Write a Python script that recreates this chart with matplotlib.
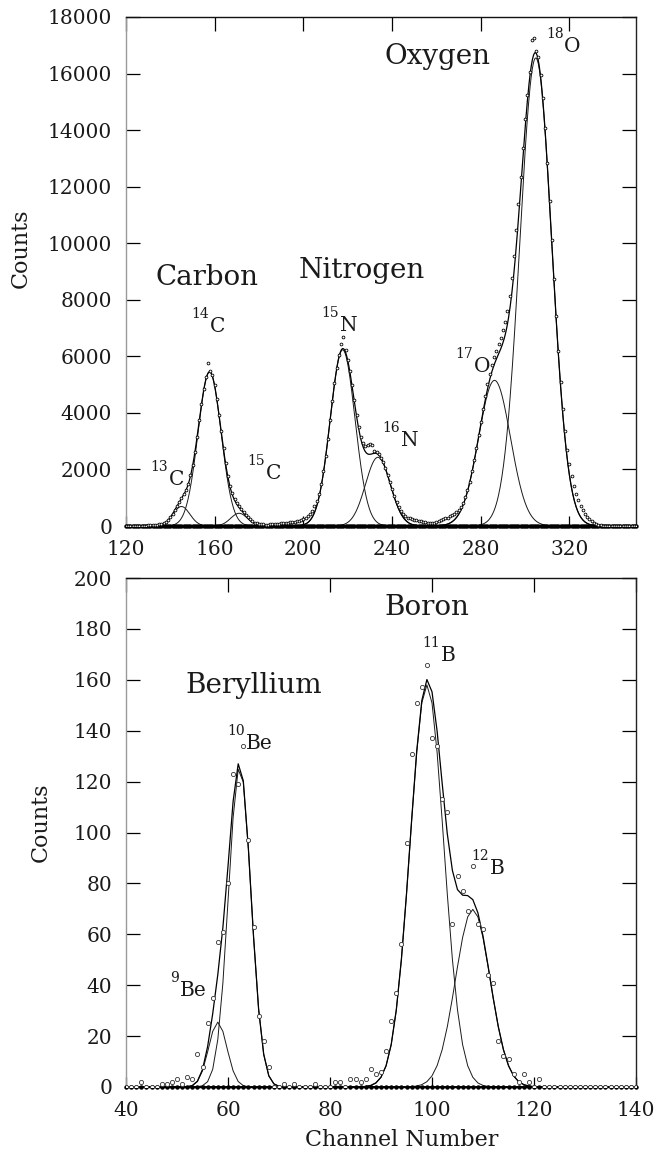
import numpy as np
import matplotlib
matplotlib.use("Agg")
import matplotlib.pyplot as plt

# ---------------- data: upper panel (C, N, O) ----------------
top_first_channel = 120
top_counts = [
    0, 0, 0, 0, 0, 0, 0, 0, 10, 15,
    20, 25, 30, 40, 45, 60, 80, 110, 150, 220,
    320, 440, 580, 720, 860, 990, 1130, 1290, 1500, 1790,
    2150, 2620, 3160, 3740, 4320, 4850, 5260, 5750, 5490, 5330,
    4980, 4500, 3940, 3350, 2760, 2230, 1780, 1420, 1150, 950,
    800, 690, 590, 490, 400, 310, 230, 170, 120, 90,
    70, 60, 55, 50, 50, 55, 60, 65, 70, 80,
    90, 100, 110, 120, 130, 140, 150, 170, 190, 220,
    250, 290, 340, 420, 530, 690, 880, 1130, 1480, 1930,
    2470, 3090, 3760, 4430, 5060, 5600, 6050, 6420, 6700, 6230,
    5870, 5480, 4990, 4450, 3940, 3500, 3150, 2930, 2830, 2880,
    2900, 2850, 2660, 2600, 2530, 2420, 2260, 2060, 1820, 1560,
    1300, 1060, 850, 670, 530, 430, 350, 300, 270, 240,
    220, 200, 185, 170, 150, 130, 110, 95, 100, 120,
    150, 180, 210, 240, 270, 300, 340, 390, 440, 500,
    580, 680, 820, 1010, 1260, 1570, 1930, 2330, 2760, 3210,
    3680, 4150, 4600, 5010, 5380, 5700, 5960, 6200, 6420, 6650,
    6920, 7230, 7620, 8120, 8760, 9550, 10450, 11400, 12350, 13350,
    14400, 15250, 16050, 17200, 17250, 16800, 16600, 15950, 15120, 14080,
    12850, 11500, 10120, 8740, 7420, 6200, 5100, 4150, 3350, 2700,
    2180, 1760, 1420, 1140, 910, 720, 560, 430, 330, 240,
    170, 110, 70, 40, 20, 10, 0, 0, 0, 0,
    0, 0, 0, 0, 0, 0, 0, 0, 0, 0,
    0,
]
# Gaussian fit components (amplitude, centroid, sigma)
top_peaks = ["13C", "14C", "15C", "15N", "16N", "17O", "18O"]
top_amp = [690, 5450, 450, 6230, 2430, 5150, 16550]
top_mu = [145.0, 157.7, 171.0, 217.7, 233.6, 286.2, 304.8]
top_sigma = [3.8, 5.2, 3.8, 5.6, 5.6, 7.2, 7.2]

top_elements = ["Oxygen", "Carbon", "Nitrogen"]
top_element_x = [260.3, 156.5, 226.2]
top_element_y = [16600, 8800, 9050]

top_iso_mass = ["14", "15", "13", "15", "16", "17", "18"]
top_iso_symbol = ["C", "N", "C", "C", "N", "O", "O"]
top_iso_x = [157.9, 216.4, 139.3, 183.1, 243.9, 276.9, 317.6]
top_iso_y = [7050, 7100, 1630, 1860, 3040, 5630, 16950]

top_xticks = [120, 160, 200, 240, 280, 320]
top_yticks = [0, 2000, 4000, 6000, 8000, 10000, 12000, 14000, 16000, 18000]

# ---------------- data: lower panel (Be, B) ----------------
bot_first_channel = 40
bot_counts = [
    0, 0, 0, 2, 0, 0, 0, 1, 1, 2,
    3, 1, 4, 3, 13, 8, 25, 35, 57, 61,
    80, 123, 119, 134, 97, 63, 28, 18, 8, 0,
    0, 1, 0, 1, 0, 0, 0, 1, 0, 0,
    0, 2, 2, 0, 3, 3, 2, 3, 7, 5,
    6, 14, 26, 37, 56, 96, 131, 151, 157, 166,
    137, 134, 113, 108, 64, 83, 77, 69, 87, 64,
    62, 44, 41, 18, 12, 11, 5, 2, 5, 2,
    0, 3, 0, 0, 0, 0, 0, 0, 0, 0,
    0, 0, 0, 0, 0, 0, 0, 0, 0, 0,
    0,
]
bot_peaks = ["9Be", "10Be", "11B", "12B"]
bot_amp = [25.5, 126, 158, 69.8]
bot_mu = [58.0, 62.3, 99.0, 108.0]
bot_sigma = [1.8, 2.2, 3.3, 3.4]

bot_elements = ["Boron", "Beryllium"]
bot_element_x = [99.0, 65.1]
bot_element_y = [188.6, 157.6]

bot_iso_mass = ["11", "10", "12", "9"]
bot_iso_symbol = ["B", "Be", "B", "Be"]
bot_iso_x = [101.7, 63.5, 111.3, 50.6]
bot_iso_y = [169.7, 134.8, 86.0, 38.1]

bot_xticks = [40, 60, 80, 100, 120, 140]
bot_yticks = [0, 20, 40, 60, 80, 100, 120, 140, 160, 180, 200]

# ---------------- drawing ----------------
SERIF = "DejaVu Serif"
TXT = "#1a1a1a"
W, H = 654, 1153
fig = plt.figure(figsize=(W / 100, H / 100), dpi=100)
ax1 = fig.add_axes([126 / W, 1 - 526 / H, 510 / W, 509 / H])
ax2 = fig.add_axes([126 / W, 1 - 1087 / H, 510 / W, 509 / H])


def gauss(x, a, m, s):
    return a * np.exp(-0.5 * ((x - m) / s) ** 2)


def style_axes(ax, xlim, ylim, xticks, yticks):
    ax.set_xlim(*xlim)
    ax.set_ylim(*ylim)
    ax.set_xticks(xticks)
    ax.set_yticks(yticks)
    ax.tick_params(direction="in", top=True, right=True, length=10,
                   width=0.9, labelsize=14.5, pad=10, labelcolor=TXT)
    for lab in ax.get_xticklabels() + ax.get_yticklabels():
        lab.set_family(SERIF)
    for t in ax.xaxis.get_major_ticks():
        t.tick1line.set_markersize(7)
        t.tick1line.set_color("#222222")
        t.tick2line.set_color("#111111")
    for t in ax.yaxis.get_major_ticks():
        t.tick1line.set_color("#999999")
        t.tick2line.set_color("#888888")
    ax.spines["left"].set_color("#999999")
    ax.spines["top"].set_color("#111111")
    ax.spines["right"].set_color("#222222")
    ax.spines["bottom"].set_color("#000000")
    for sp in ax.spines.values():
        sp.set_linewidth(1.0)


def iso_label(ax, mass, sym, x, y, size=14.5, msize=10):
    ax.text(x, y, sym, fontsize=size, family=SERIF, ha="left", va="center",
            color=TXT)
    ax.annotate(mass, xy=(x, y), xytext=(-0.5, 9), textcoords="offset points",
                fontsize=msize, family=SERIF, ha="right", va="center",
                color=TXT)


# upper panel
ch1 = np.arange(top_first_channel, top_first_channel + len(top_counts))
xf = np.arange(top_first_channel, ch1[-1] + 0.01, 0.25)
total1 = np.zeros_like(xf)
for a, m, s in zip(top_amp, top_mu, top_sigma):
    g = gauss(xf, a, m, s)
    total1 += g
    ax1.plot(xf, g, color="#1a1a1a", lw=0.7, zorder=2)
ax1.plot(xf, total1, color="black", lw=0.9, zorder=3)
ax1.plot(ch1, np.zeros(len(ch1)), color="black", lw=1.4, marker="o", ms=2.2,
         zorder=4, clip_on=False)
ax1.plot(ch1, top_counts, ls="none", marker="o", ms=2.0, mfc="white",
         mec="black", mew=0.6, zorder=5)
style_axes(ax1, (120, 350), (0, 18000), top_xticks, top_yticks)
ax1.set_ylabel("Counts", fontsize=16, family=SERIF, color=TXT)
ax1.yaxis.set_label_coords(-0.184, 0.546)

for name, x, y in zip(top_elements, top_element_x, top_element_y):
    ax1.text(x, y, name, fontsize=20, family=SERIF, ha="center", va="center",
             color=TXT)
for mass, sym, x, y in zip(top_iso_mass, top_iso_symbol, top_iso_x, top_iso_y):
    iso_label(ax1, mass, sym, x, y)

# lower panel
ch2 = np.arange(bot_first_channel, bot_first_channel + len(bot_counts))
total2 = np.zeros(len(ch2))
for a, m, s in zip(bot_amp, bot_mu, bot_sigma):
    g = gauss(ch2, a, m, s)
    total2 += g
    ax2.plot(ch2, g, color="#1a1a1a", lw=0.7, zorder=2)
ax2.plot(ch2, total2, color="black", lw=0.9, zorder=3)
ax2.plot(ch2, np.zeros(len(ch2)), color="black", lw=1.2, marker="o", ms=2.2,
         zorder=4, clip_on=False)
ax2.plot(ch2, bot_counts, ls="none", marker="o", ms=3.0, mfc="white",
         mec="#333333", mew=0.6, zorder=5)
style_axes(ax2, (40, 140), (0, 200), bot_xticks, bot_yticks)
ax2.set_ylabel("Counts", fontsize=16, family=SERIF, color=TXT)
ax2.yaxis.set_label_coords(-0.145, 0.52)
ax2.set_xlabel("Channel Number", fontsize=16, family=SERIF, color=TXT)
ax2.xaxis.set_label_coords(0.541, -0.083)

for name, x, y in zip(bot_elements, bot_element_x, bot_element_y):
    ax2.text(x, y, name, fontsize=20, family=SERIF, ha="center", va="center",
             color=TXT)
for mass, sym, x, y in zip(bot_iso_mass, bot_iso_symbol, bot_iso_x, bot_iso_y):
    iso_label(ax2, mass, sym, x, y)

fig.savefig("out.png", dpi=100)
